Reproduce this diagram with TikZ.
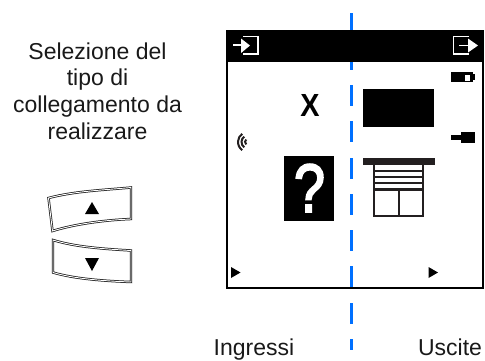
\documentclass[tikz,border=0pt]{standalone}
\usepackage{fontspec}
\setmainfont{Liberation Sans}
\newfontfamily\qmarkfont[FakeBold=3]{Liberation Sans}
\definecolor{dashblue}{HTML}{0070FF}
\definecolor{icon}{HTML}{231F20}
\tikzset{
  label text/.style={font=\fontsize{23}{26.7}\selectfont,align=center,text=black!90,inner sep=0pt},
  dash seg/.style={draw=dashblue,line width=3pt},
  keybox/.style={draw=black!90,line width=.75pt,double=white,double distance=.9pt},
  icon line/.style={draw=icon,line width=2.6pt},
  white line/.style={draw=white,line width=1.7pt}
}
\begin{document}
\begin{tikzpicture}[x=1pt,y=-1pt]
\useasboundingbox (0,0) rectangle (485,360);
% dashed axis
\foreach \a/\b in {13/33,85/106,121/142,158/179,194/215,230/251,266/288,303/324,339/350}
  \draw[dash seg] (351.5,\a) -- (351.5,\b);
% display
\draw[black,line width=2pt] (227,31) rectangle (483,287.5);
\fill[black] (226,30) rectangle (484,62);
\draw[dash seg] (351.5,62) -- (351.5,70);
\draw[dash seg] (351.5,266) -- (351.5,287);
% header icons
\draw[white line] (243,36.5) -- (258,36.5) -- (258,54) -- (243,54);
\draw[white,line width=1.8pt] (233,45) -- (244,45);
\fill[white] (241,38.5) -- (250,45.5) -- (241,53) -- cycle;
\draw[white line] (469,36.5) -- (453.5,36.5) -- (453.5,54) -- (469,54);
\draw[white,line width=1.8pt] (459,45.5) -- (470,45.5);
\fill[white] (468,38.5) -- (478,45.5) -- (468,52.5) -- cycle;
% side icons
\fill[black] (451,72) rectangle (473,82);
\fill[black] (473,74) rectangle (475,80);
\fill[white] (465,74.5) rectangle (470,80.5);
\fill[black] (451,134.5) rectangle (461,140);
\fill[black] (461,132) rectangle (475,143);
\foreach \r/\w in {3/2,6.5/2,10/2}
  \draw[icon,line width=\w pt] (248,142) ++(125:\r) arc[start angle=125,end angle=235,radius=\r];
% output block and X
\fill[black] (363,89) rectangle (434,127);
\node[font=\fontsize{32}{32}\bfseries\selectfont,xscale=.9,inner sep=0pt] (x) at (310,105) {X};
% question box
\fill[black] (284,156) rectangle (334,221);
\node[font=\fontsize{68}{68}\qmarkfont\selectfont,xscale=.82,text=white,inner sep=0pt] (q) at (309.5,188) {?};
% blind
\fill[icon] (363,158) rectangle (435,165);
\draw[icon line] (374,165) -- (374,216) -- (423,216) -- (423,165);
\draw[icon line] (374,189.5) -- (423,189.5);
\draw[icon line] (399,189.5) -- (399,216);
\foreach \y in {170.5,176.5,182.5}
  \draw[icon,line width=2pt] (374,\y) -- (423,\y);
% cursors
\fill[black] (231,267) -- (240.5,272.5) -- (231,278) -- cycle;
\fill[black] (428.5,267) -- (438,272.5) -- (428.5,278) -- cycle;
% keys
\draw[keybox] (48.5,198) .. controls (75,191) and (105,190) .. (131,187.5) -- (131,219)
  .. controls (105,220) and (75,224) .. (52.5,231) -- cycle;
\fill[black] (92,202) -- (99,214) -- (85,214) -- cycle;
\draw[keybox] (53,240) .. controls (75,247) and (105,249) .. (131,250.5) -- (131,282)
  .. controls (105,281) and (75,279) .. (53,272.5) -- cycle;
\fill[black] (85,258) -- (99,258) -- (92,271) -- cycle;
% labels
\node[label text] (sel) at (97.5,91) {Selezione del\\tipo di\\collegamento da\\realizzare};
\node[label text,anchor=base] (ing) at (254,355) {Ingressi};
\node[label text,anchor=base] (usc) at (450,355) {Uscite};
\end{tikzpicture}
\end{document}
